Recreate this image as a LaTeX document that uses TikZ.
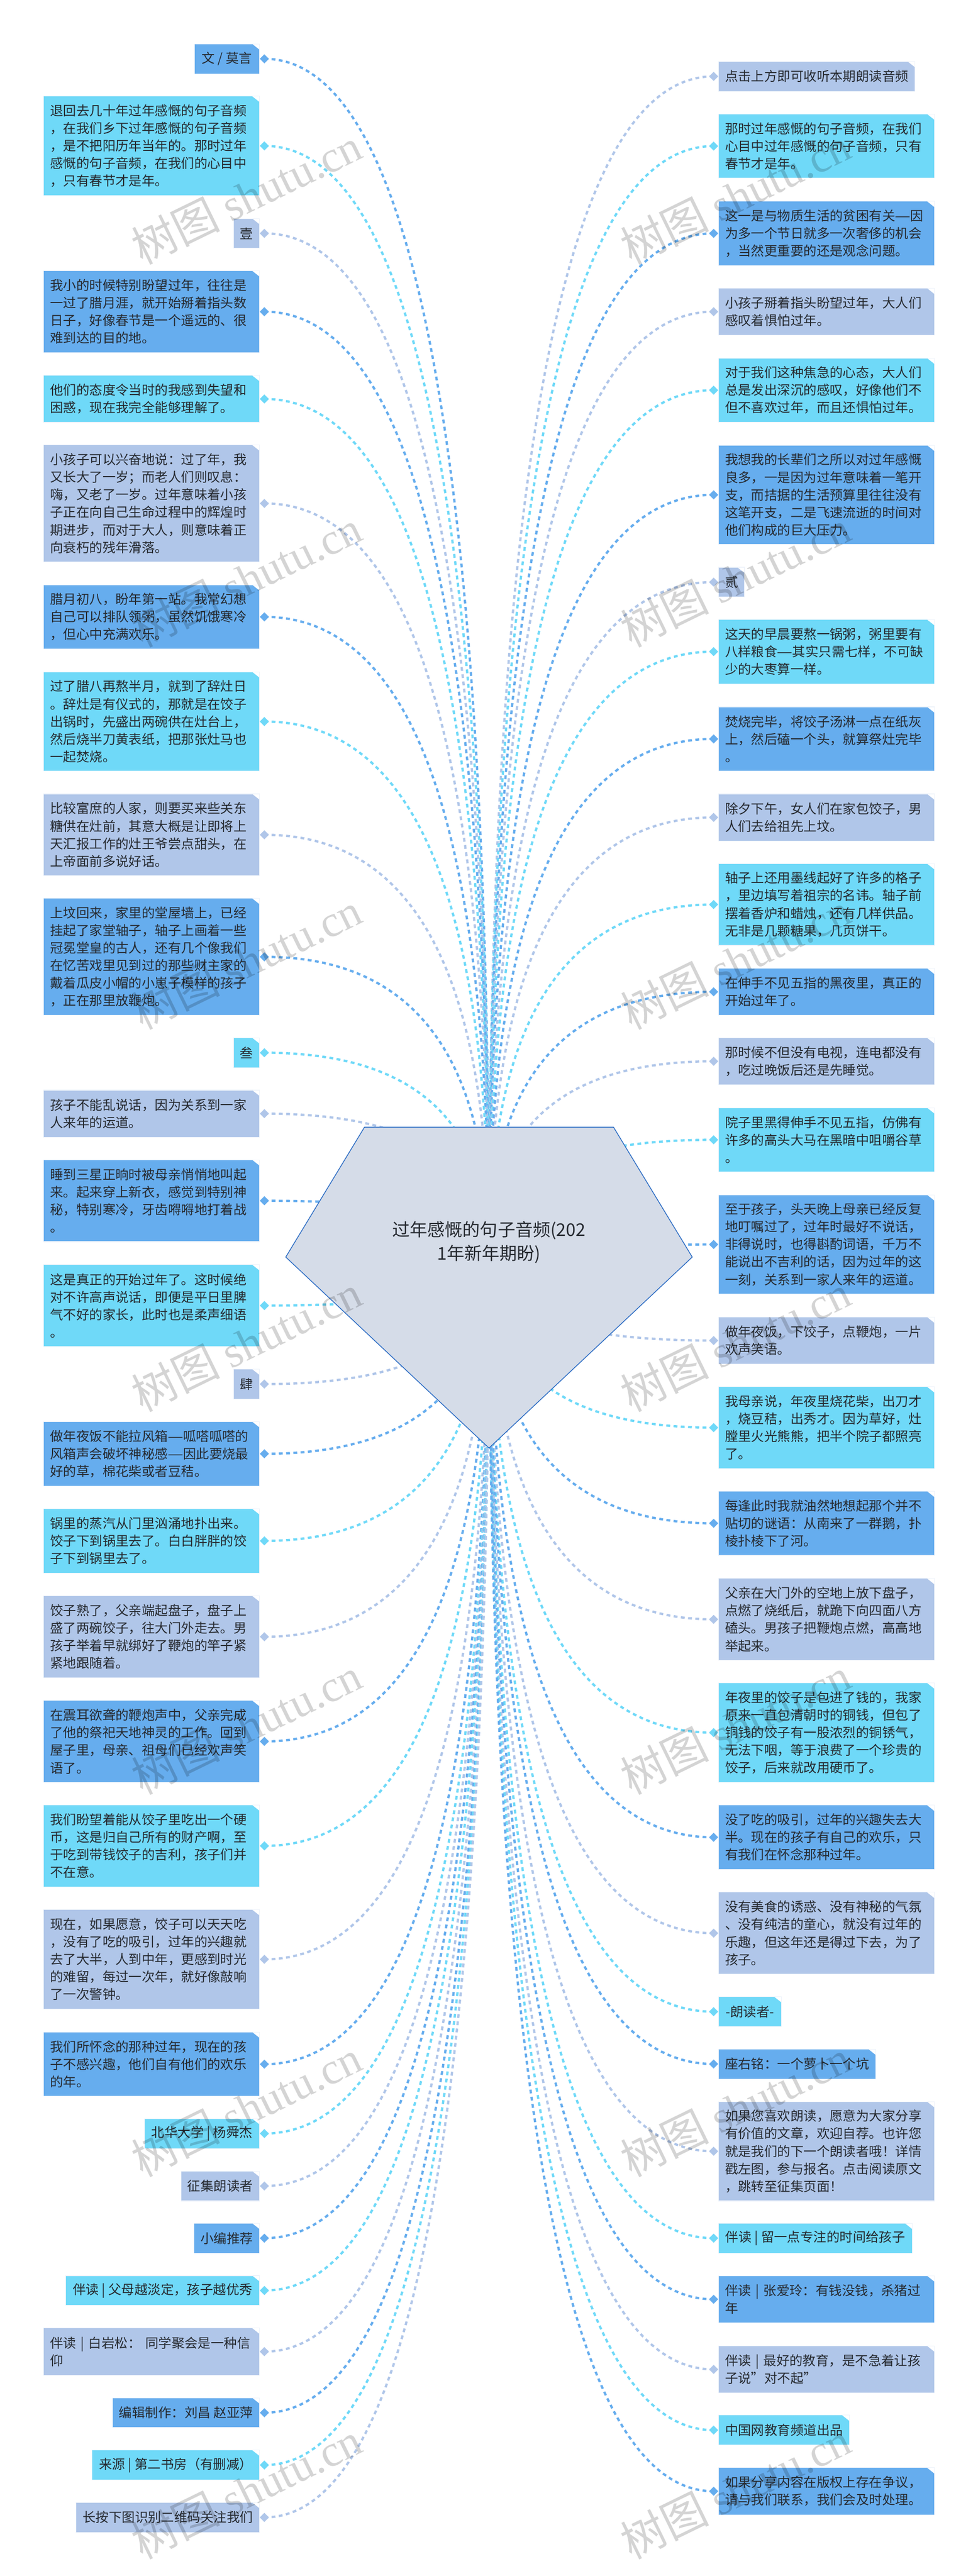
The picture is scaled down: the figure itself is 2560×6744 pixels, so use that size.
\documentclass[tikz,border=0pt]{standalone}
\usepackage{fontspec}
\setmainfont{Noto Sans CJK SC}
\newfontfamily\markfont{Liberation Serif}
\usetikzlibrary{shapes.geometric, calc, backgrounds}
\newcommand{\longdash}{\scalebox{0.68}[1]{——}}
\definecolor{cardblue}{HTML}{66ADEE}
\definecolor{cardcyan}{HTML}{6FD9F8}
\definecolor{cardpale}{HTML}{B0C6E9}
\definecolor{edgepale}{HTML}{EEF3FA}
\definecolor{ink}{HTML}{262A30}
\definecolor{rootfill}{HTML}{D5DCE8}
\definecolor{rootedge}{HTML}{2B6CC4}
\tikzstyle{card} = [rectangle, draw=edgepale, line width=1.5pt, inner xsep=17pt, inner ysep=0pt, text=ink, align=left, font=\fontsize{34.3}{46}\selectfont, path picture={\fill [white] ([xshift=-19pt]path picture bounding box.north east) -- (path picture bounding box.north east) -- ([yshift=-15pt]path picture bounding box.north east) -- cycle;}]
\tikzstyle{bluecard} = [card, fill=cardblue]
\tikzstyle{cyancard} = [card, fill=cardcyan]
\tikzstyle{palecard} = [card, fill=cardpale]
\tikzstyle{lt} = [anchor=east]
\tikzstyle{rt} = [anchor=west]
\tikzstyle{wide} = [text width=531pt]
\tikzstyle{dot} = [diamond, aspect=1, inner sep=0pt, minimum width=24pt, minimum height=24pt]
\tikzstyle{link} = [line width=6pt, dash pattern=on 10pt off 9pt]
\tikzstyle{rootshape} = [draw=rootedge, line width=2pt, fill=rootfill, line join=miter]
\tikzstyle{rootlabel} = [align=center, text=ink, font=\fontsize{46}{62.5}\selectfont, inner sep=0pt]
\tikzstyle{stamp} = [rotate=26, text=black, text opacity=0.17, inner sep=0pt, font=\fontsize{116}{120}\selectfont]

\begin{document}
\begin{tikzpicture}[x=1pt, y=-1pt]
	\useasboundingbox (0,0) rectangle (2560,6744);

	\draw [rootshape] (954,2951) -- (1606,2951) -- (1812,3291) -- (1280,3791) -- (748,3291) -- cycle;
	\node (root) [rootlabel] at (1280,3252) {过年感慨的句子音频(202\\1年新年期盼)};
	\coordinate (hub) at ([yshift=-39pt]root.center);

	% left column
	\node (l1) [bluecard, lt, minimum width=170pt, minimum height=78pt] at (680,154) {文 / 莫言};
	\node (l2) [cyancard, lt, wide, minimum height=260pt] at (680,382) {退回去几十年过年感慨的句子音频\\，在我们乡下过年感慨的句子音频\\，是不把阳历年当年的。那时过年\\感慨的句子音频，在我们的心目中\\，只有春节才是年。};
	\node (l3) [palecard, lt, minimum width=67pt, minimum height=78pt] at (680,611) {壹};
	\node (l4) [bluecard, lt, wide, minimum height=214pt] at (680,816) {我小的时候特别盼望过年，往往是\\一过了腊月涯，就开始掰着指头数\\日子，好像春节是一个遥远的、很\\难到达的目的地。};
	\node (l5) [cyancard, lt, wide, minimum height=123pt] at (680,1044.5) {他们的态度令当时的我感到失望和\\困惑，现在我完全能够理解了。};
	\node (l6) [palecard, lt, wide, minimum height=306pt] at (680,1318) {小孩子可以兴奋地说：过了年，我\\又长大了一岁；而老人们则叹息：\\嗨，又老了一岁。过年意味着小孩\\子正在向自己生命过程中的辉煌时\\期进步，而对于大人，则意味着正\\向衰朽的残年滑落。};
	\node (l7) [bluecard, lt, wide, minimum height=168pt] at (680,1615) {腊月初八，盼年第一站。我常幻想\\自己可以排队领粥，虽然饥饿寒冷\\，但心中充满欢乐。};
	\node (l8) [cyancard, lt, wide, minimum height=260pt] at (680,1889) {过了腊八再熬半月，就到了辞灶日\\。辞灶是有仪式的，那就是在饺子\\出锅时，先盛出两碗供在灶台上，\\然后烧半刀黄表纸，把那张灶马也\\一起焚烧。};
	\node (l9) [palecard, lt, wide, minimum height=214pt] at (680,2185.5) {比较富庶的人家，则要买来些关东\\糖供在灶前，其意大概是让即将上\\天汇报工作的灶王爷尝点甜头，在\\上帝面前多说好话。};
	\node (l10) [bluecard, lt, wide, minimum height=306pt] at (680,2505) {上坟回来，家里的堂屋墙上，已经\\挂起了家堂轴子，轴子上画着一些\\冠冕堂皇的古人，还有几个像我们\\在忆苦戏里见到过的那些财主家的\\戴着瓜皮小帽的小崽子模样的孩子\\，正在那里放鞭炮。};
	\node (l11) [cyancard, lt, minimum width=67pt, minimum height=78pt] at (680,2756) {叁};
	\node (l12) [palecard, lt, wide, minimum height=123pt] at (680,2915.5) {孩子不能乱说话，因为关系到一家\\人来年的运道。};
	\node (l13) [bluecard, lt, wide, minimum height=214pt] at (680,3143.5) {睡到三星正晌时被母亲悄悄地叫起\\来。起来穿上新衣，感觉到特别神\\秘，特别寒冷，牙齿嘚嘚地打着战\\。};
	\node (l14) [cyancard, lt, wide, minimum height=214pt] at (680,3418) {这是真正的开始过年了。这时候绝\\对不许高声说话，即便是平日里脾\\气不好的家长，此时也是柔声细语\\。};
	\node (l15) [palecard, lt, minimum width=67pt, minimum height=78pt] at (680,3623.5) {肆};
	\node (l16) [bluecard, lt, wide, minimum height=168pt] at (680,3806) {做年夜饭不能拉风箱\longdash 呱嗒呱嗒的\\风箱声会破坏神秘感\longdash 因此要烧最\\好的草，棉花柴或者豆秸。};
	\node (l17) [cyancard, lt, wide, minimum height=168pt] at (680,4034) {锅里的蒸汽从门里汹涌地扑出来。\\饺子下到锅里去了。白白胖胖的饺\\子下到锅里去了。};
	\node (l18) [palecard, lt, wide, minimum height=214pt] at (680,4285) {饺子熟了，父亲端起盘子，盘子上\\盛了两碗饺子，往大门外走去。男\\孩子举着早就绑好了鞭炮的竿子紧\\紧地跟随着。};
	\node (l19) [bluecard, lt, wide, minimum height=214pt] at (680,4559) {在震耳欲聋的鞭炮声中，父亲完成\\了他的祭祀天地神灵的工作。回到\\屋子里，母亲、祖母们已经欢声笑\\语了。};
	\node (l20) [cyancard, lt, wide, minimum height=214pt] at (680,4832.5) {我们盼望着能从饺子里吃出一个硬\\币，这是归自己所有的财产啊，至\\于吃到带钱饺子的吉利，孩子们并\\不在意。};
	\node (l21) [palecard, lt, wide, minimum height=260pt] at (680,5129.5) {现在，如果愿意，饺子可以天天吃\\，没有了吃的吸引，过年的兴趣就\\去了大半，人到中年，更感到时光\\的难留，每过一次年，就好像敲响\\了一次警钟。};
	\node (l22) [bluecard, lt, wide, minimum height=168pt] at (680,5404) {我们所怀念的那种过年，现在的孩\\子不感兴趣，他们自有他们的欢乐\\的年。};
	\node (l23) [cyancard, lt, minimum width=301pt, minimum height=78pt] at (680,5585.5) {北华大学 | 杨舜杰};
	\node (l24) [palecard, lt, minimum width=203pt, minimum height=78pt] at (680,5723) {征集朗读者};
	\node (l25) [bluecard, lt, minimum width=169pt, minimum height=78pt] at (680,5859.5) {小编推荐};
	\node (l26) [cyancard, lt, minimum width=507pt, minimum height=78pt] at (680,5996.5) {伴读 | 父母越淡定，孩子越优秀};
	\node (l27) [palecard, lt, wide, minimum height=123pt] at (680,6156.5) {伴读 | 白岩松： 同学聚会是一种信\\仰};
	\node (l28) [bluecard, lt, minimum width=385pt, minimum height=78pt] at (680,6316.5) {编辑制作：刘昌 赵亚萍};
	\node (l29) [cyancard, lt, minimum width=438pt, minimum height=78pt] at (680,6453.5) {来源 | 第二书房（有删减）};
	\node (l30) [palecard, lt, minimum width=478pt, minimum height=78pt] at (680,6590.5) {长按下图识别二维码关注我们};

	% right column
	\node (r1) [palecard, rt, minimum width=512pt, minimum height=78pt] at (1880,200) {点击上方即可收听本期朗读音频};
	\node (r2) [cyancard, rt, wide, minimum height=168pt] at (1880,382.5) {那时过年感慨的句子音频，在我们\\心目中过年感慨的句子音频，只有\\春节才是年。};
	\node (r3) [bluecard, rt, wide, minimum height=168pt] at (1880,611) {这一是与物质生活的贫困有关\longdash 因\\为多一个节日就多一次奢侈的机会\\，当然更重要的还是观念问题。};
	\node (r4) [palecard, rt, wide, minimum height=123pt] at (1880,816) {小孩子掰着指头盼望过年，大人们\\感叹着惧怕过年。};
	\node (r5) [cyancard, rt, wide, minimum height=168pt] at (1880,1021.5) {对于我们这种焦急的心态，大人们\\总是发出深沉的感叹，好像他们不\\但不喜欢过年，而且还惧怕过年。};
	\node (r6) [bluecard, rt, wide, minimum height=260pt] at (1880,1295.5) {我想我的长辈们之所以对过年感慨\\良多，一是因为过年意味着一笔开\\支，而拮据的生活预算里往往没有\\这笔开支，二是飞速流逝的时间对\\他们构成的巨大压力。};
	\node (r7) [palecard, rt, minimum width=67pt, minimum height=78pt] at (1880,1524) {贰};
	\node (r8) [cyancard, rt, wide, minimum height=168pt] at (1880,1706) {这天的早晨要熬一锅粥，粥里要有\\八样粮食\longdash 其实只需七样，不可缺\\少的大枣算一样。};
	\node (r9) [bluecard, rt, wide, minimum height=168pt] at (1880,1934.5) {焚烧完毕，将饺子汤淋一点在纸灰\\上，然后磕一个头，就算祭灶完毕\\。};
	\node (r10) [palecard, rt, wide, minimum height=123pt] at (1880,2140) {除夕下午，女人们在家包饺子，男\\人们去给祖先上坟。};
	\node (r11) [cyancard, rt, wide, minimum height=214pt] at (1880,2368) {轴子上还用墨线起好了许多的格子\\，里边填写着祖宗的名讳。轴子前\\摆着香炉和蜡烛，还有几样供品。\\无非是几颗糖果，几页饼干。};
	\node (r12) [bluecard, rt, wide, minimum height=123pt] at (1880,2596.5) {在伸手不见五指的黑夜里，真正的\\开始过年了。};
	\node (r13) [palecard, rt, wide, minimum height=123pt] at (1880,2778.5) {那时候不但没有电视，连电都没有\\，吃过晚饭后还是先睡觉。};
	\node (r14) [cyancard, rt, wide, minimum height=168pt] at (1880,2984) {院子里黑得伸手不见五指，仿佛有\\许多的高头大马在黑暗中咀嚼谷草\\。};
	\node (r15) [bluecard, rt, wide, minimum height=260pt] at (1880,3258) {至于孩子，头天晚上母亲已经反复\\地叮嘱过了，过年时最好不说话，\\非得说时，也得斟酌词语，千万不\\能说出不吉利的话，因为过年的这\\一刻，关系到一家人来年的运道。};
	\node (r16) [palecard, rt, wide, minimum height=123pt] at (1880,3509.5) {做年夜饭，下饺子，点鞭炮，一片\\欢声笑语。};
	\node (r17) [cyancard, rt, wide, minimum height=214pt] at (1880,3737.5) {我母亲说，年夜里烧花柴，出刀才\\，烧豆秸，出秀才。因为草好，灶\\膛里火光熊熊，把半个院子都照亮\\了。};
	\node (r18) [bluecard, rt, wide, minimum height=168pt] at (1880,3988) {每逢此时我就油然地想起那个并不\\贴切的谜语：从南来了一群鹅，扑\\棱扑棱下了河。};
	\node (r19) [palecard, rt, wide, minimum height=214pt] at (1880,4239.5) {父亲在大门外的空地上放下盘子，\\点燃了烧纸后，就跪下向四面八方\\磕头。男孩子把鞭炮点燃，高高地\\举起来。};
	\node (r20) [cyancard, rt, wide, minimum height=260pt] at (1880,4536) {年夜里的饺子是包进了钱的，我家\\原来一直包清朝时的铜钱，但包了\\铜钱的饺子有一股浓烈的铜锈气，\\无法下咽，等于浪费了一个珍贵的\\饺子，后来就改用硬币了。};
	\node (r21) [bluecard, rt, wide, minimum height=168pt] at (1880,4810) {没了吃的吸引，过年的兴趣失去大\\半。现在的孩子有自己的欢乐，只\\有我们在怀念那种过年。};
	\node (r22) [palecard, rt, wide, minimum height=214pt] at (1880,5061) {没有美食的诱惑、没有神秘的气氛\\、没有纯洁的童心，就没有过年的\\乐趣，但这年还是得过下去，为了\\孩子。};
	\node (r23) [cyancard, rt, minimum width=165pt, minimum height=78pt] at (1880,5266.5) {-朗读者-};
	\node (r24) [bluecard, rt, minimum width=409pt, minimum height=78pt] at (1880,5403.5) {座右铭：一个萝卜一个坑};
	\node (r25) [palecard, rt, wide, minimum height=260pt] at (1880,5632) {如果您喜欢朗读，愿意为大家分享\\有价值的文章，欢迎自荐。也许您\\就是我们的下一个朗读者哦！详情\\戳左图，参与报名。点击阅读原文\\，跳转至征集页面！};
	\node (r26) [cyancard, rt, minimum width=507pt, minimum height=78pt] at (1880,5859.5) {伴读 | 留一点专注的时间给孩子};
	\node (r27) [bluecard, rt, wide, minimum height=123pt] at (1880,6019.5) {伴读 | 张爱玲：有钱没钱，杀猪过\\年};
	\node (r28) [palecard, rt, wide, minimum height=123pt] at (1880,6203) {伴读 | 最好的教育，是不急着让孩\\子说"对不起"};
	\node (r29) [cyancard, rt, minimum width=340pt, minimum height=78pt] at (1880,6362) {中国网教育频道出品};
	\node (r30) [bluecard, rt, wide, minimum height=123pt] at (1880,6522) {如果分享内容在版权上存在争议，\\请与我们联系，我们会及时处理。};

	% diamonds and curves, under the pentagon
	\foreach \n/\c in {l1/cardblue, l2/cardcyan, l3/cardpale, l4/cardblue, l5/cardcyan, l6/cardpale, l7/cardblue, l8/cardcyan, l9/cardpale, l10/cardblue, l11/cardcyan, l12/cardpale, l13/cardblue, l14/cardcyan, l15/cardpale, l16/cardblue, l17/cardcyan, l18/cardpale, l19/cardblue, l20/cardcyan, l21/cardpale, l22/cardblue, l23/cardcyan, l24/cardpale, l25/cardblue, l26/cardcyan, l27/cardpale, l28/cardblue, l29/cardcyan, l30/cardpale} {
		\node (d\n) [dot, fill=\c] at ([xshift=12pt]\n.east) {};
		\begin{pgfonlayer}{background}
			\draw [link, draw=\c] (d\n.center) .. controls ($(d\n.center)!0.6667!(d\n.center -| hub)$) and ($(hub)!0.6667!(d\n.center -| hub)$) .. (hub);
		\end{pgfonlayer}
	}
	\foreach \n/\c in {r1/cardpale, r2/cardcyan, r3/cardblue, r4/cardpale, r5/cardcyan, r6/cardblue, r7/cardpale, r8/cardcyan, r9/cardblue, r10/cardpale, r11/cardcyan, r12/cardblue, r13/cardpale, r14/cardcyan, r15/cardblue, r16/cardpale, r17/cardcyan, r18/cardblue, r19/cardpale, r20/cardcyan, r21/cardblue, r22/cardpale, r23/cardcyan, r24/cardblue, r25/cardpale, r26/cardcyan, r27/cardblue, r28/cardpale, r29/cardcyan, r30/cardblue} {
		\node (d\n) [dot, fill=\c] at ([xshift=-12pt]\n.west) {};
		\begin{pgfonlayer}{background}
			\draw [link, draw=\c] (d\n.center) .. controls ($(d\n.center)!0.6667!(d\n.center -| hub)$) and ($(hub)!0.6667!(d\n.center -| hub)$) .. (hub);
		\end{pgfonlayer}
	}

	% watermark
	\foreach \y in {513,1514,2515,3516,4518,5519,6520} {
		\node (wl\y) [stamp] at (645,\y) {树图 {\markfont shutu.cn}};
		\node (wr\y) [stamp] at (1925,\y) {树图 {\markfont shutu.cn}};
	}
\end{tikzpicture}
\end{document}
